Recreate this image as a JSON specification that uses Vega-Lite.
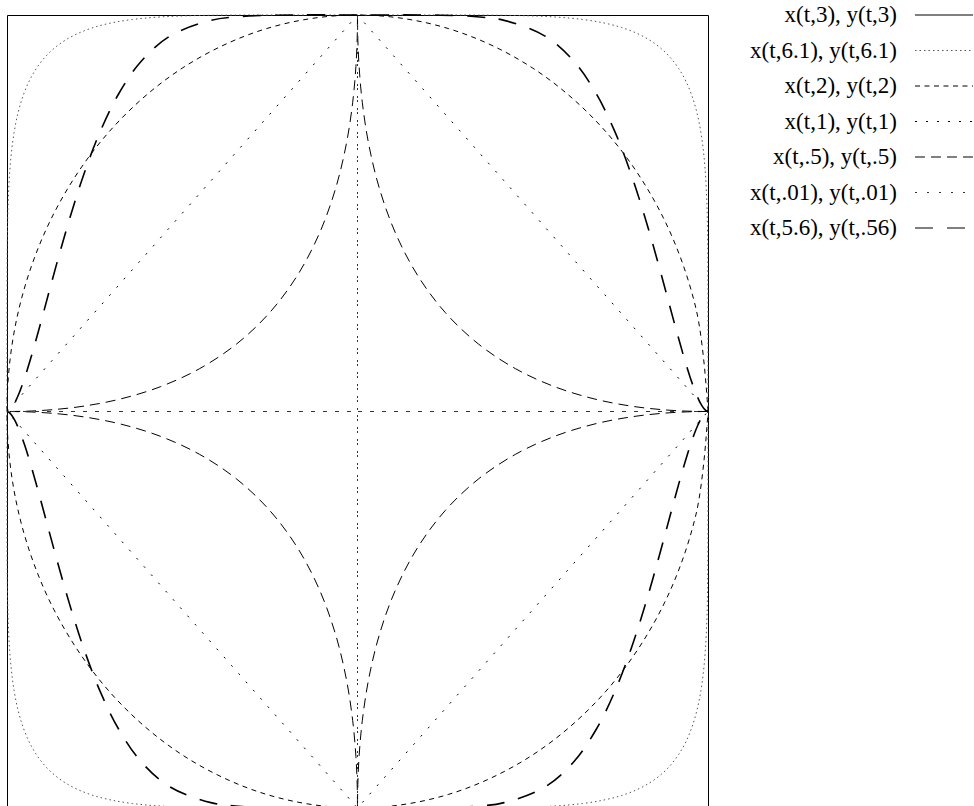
{
  "$schema": "https://vega.github.io/schema/vega-lite/v6.json",
  "width": 701,
  "height": 793,
  "autosize": {"type": "none"},
  "padding": {"left": 7, "top": 15, "right": 266, "bottom": 0},
  "background": "white",
  "config": {"view": {"stroke": "black", "strokeWidth": 1}, "font": "Liberation Serif"},
  "data": {"values": [
    {"s":"x(t,6.1), y(t,6.1)","i":0,"x":1,"y":0},
    {"s":"x(t,6.1), y(t,6.1)","i":1,"x":0.9988,"y":0.4493},
    {"s":"x(t,6.1), y(t,6.1)","i":2,"x":0.995,"y":0.5633},
    {"s":"x(t,6.1), y(t,6.1)","i":3,"x":0.9887,"y":0.642},
    {"s":"x(t,6.1), y(t,6.1)","i":4,"x":0.9798,"y":0.7035},
    {"s":"x(t,6.1), y(t,6.1)","i":5,"x":0.9683,"y":0.754},
    {"s":"x(t,6.1), y(t,6.1)","i":6,"x":0.9539,"y":0.7967},
    {"s":"x(t,6.1), y(t,6.1)","i":7,"x":0.9367,"y":0.8334},
    {"s":"x(t,6.1), y(t,6.1)","i":8,"x":0.9163,"y":0.8651},
    {"s":"x(t,6.1), y(t,6.1)","i":9,"x":0.8926,"y":0.8926},
    {"s":"x(t,6.1), y(t,6.1)","i":10,"x":0.8651,"y":0.9163},
    {"s":"x(t,6.1), y(t,6.1)","i":11,"x":0.8334,"y":0.9367},
    {"s":"x(t,6.1), y(t,6.1)","i":12,"x":0.7967,"y":0.9539},
    {"s":"x(t,6.1), y(t,6.1)","i":13,"x":0.754,"y":0.9683},
    {"s":"x(t,6.1), y(t,6.1)","i":14,"x":0.7035,"y":0.9798},
    {"s":"x(t,6.1), y(t,6.1)","i":15,"x":0.642,"y":0.9887},
    {"s":"x(t,6.1), y(t,6.1)","i":16,"x":0.5633,"y":0.995},
    {"s":"x(t,6.1), y(t,6.1)","i":17,"x":0.4493,"y":0.9988},
    {"s":"x(t,6.1), y(t,6.1)","i":18,"x":0,"y":1},
    {"s":"x(t,6.1), y(t,6.1)","i":19,"x":-0.4493,"y":0.9988},
    {"s":"x(t,6.1), y(t,6.1)","i":20,"x":-0.5633,"y":0.995},
    {"s":"x(t,6.1), y(t,6.1)","i":21,"x":-0.642,"y":0.9887},
    {"s":"x(t,6.1), y(t,6.1)","i":22,"x":-0.7035,"y":0.9798},
    {"s":"x(t,6.1), y(t,6.1)","i":23,"x":-0.754,"y":0.9683},
    {"s":"x(t,6.1), y(t,6.1)","i":24,"x":-0.7967,"y":0.9539},
    {"s":"x(t,6.1), y(t,6.1)","i":25,"x":-0.8334,"y":0.9367},
    {"s":"x(t,6.1), y(t,6.1)","i":26,"x":-0.8651,"y":0.9163},
    {"s":"x(t,6.1), y(t,6.1)","i":27,"x":-0.8926,"y":0.8926},
    {"s":"x(t,6.1), y(t,6.1)","i":28,"x":-0.9163,"y":0.8651},
    {"s":"x(t,6.1), y(t,6.1)","i":29,"x":-0.9367,"y":0.8334},
    {"s":"x(t,6.1), y(t,6.1)","i":30,"x":-0.9539,"y":0.7967},
    {"s":"x(t,6.1), y(t,6.1)","i":31,"x":-0.9683,"y":0.754},
    {"s":"x(t,6.1), y(t,6.1)","i":32,"x":-0.9798,"y":0.7035},
    {"s":"x(t,6.1), y(t,6.1)","i":33,"x":-0.9887,"y":0.642},
    {"s":"x(t,6.1), y(t,6.1)","i":34,"x":-0.995,"y":0.5633},
    {"s":"x(t,6.1), y(t,6.1)","i":35,"x":-0.9988,"y":0.4493},
    {"s":"x(t,6.1), y(t,6.1)","i":36,"x":-1,"y":0},
    {"s":"x(t,6.1), y(t,6.1)","i":37,"x":-0.9988,"y":-0.4493},
    {"s":"x(t,6.1), y(t,6.1)","i":38,"x":-0.995,"y":-0.5633},
    {"s":"x(t,6.1), y(t,6.1)","i":39,"x":-0.9887,"y":-0.642},
    {"s":"x(t,6.1), y(t,6.1)","i":40,"x":-0.9798,"y":-0.7035},
    {"s":"x(t,6.1), y(t,6.1)","i":41,"x":-0.9683,"y":-0.754},
    {"s":"x(t,6.1), y(t,6.1)","i":42,"x":-0.9539,"y":-0.7967},
    {"s":"x(t,6.1), y(t,6.1)","i":43,"x":-0.9367,"y":-0.8334},
    {"s":"x(t,6.1), y(t,6.1)","i":44,"x":-0.9163,"y":-0.8651},
    {"s":"x(t,6.1), y(t,6.1)","i":45,"x":-0.8926,"y":-0.8926},
    {"s":"x(t,6.1), y(t,6.1)","i":46,"x":-0.8651,"y":-0.9163},
    {"s":"x(t,6.1), y(t,6.1)","i":47,"x":-0.8334,"y":-0.9367},
    {"s":"x(t,6.1), y(t,6.1)","i":48,"x":-0.7967,"y":-0.9539},
    {"s":"x(t,6.1), y(t,6.1)","i":49,"x":-0.754,"y":-0.9683},
    {"s":"x(t,6.1), y(t,6.1)","i":50,"x":-0.7035,"y":-0.9798},
    {"s":"x(t,6.1), y(t,6.1)","i":51,"x":-0.642,"y":-0.9887},
    {"s":"x(t,6.1), y(t,6.1)","i":52,"x":-0.5633,"y":-0.995},
    {"s":"x(t,6.1), y(t,6.1)","i":53,"x":-0.4493,"y":-0.9988},
    {"s":"x(t,6.1), y(t,6.1)","i":54,"x":0,"y":-1},
    {"s":"x(t,6.1), y(t,6.1)","i":55,"x":0.4493,"y":-0.9988},
    {"s":"x(t,6.1), y(t,6.1)","i":56,"x":0.5633,"y":-0.995},
    {"s":"x(t,6.1), y(t,6.1)","i":57,"x":0.642,"y":-0.9887},
    {"s":"x(t,6.1), y(t,6.1)","i":58,"x":0.7035,"y":-0.9798},
    {"s":"x(t,6.1), y(t,6.1)","i":59,"x":0.754,"y":-0.9683},
    {"s":"x(t,6.1), y(t,6.1)","i":60,"x":0.7967,"y":-0.9539},
    {"s":"x(t,6.1), y(t,6.1)","i":61,"x":0.8334,"y":-0.9367},
    {"s":"x(t,6.1), y(t,6.1)","i":62,"x":0.8651,"y":-0.9163},
    {"s":"x(t,6.1), y(t,6.1)","i":63,"x":0.8926,"y":-0.8926},
    {"s":"x(t,6.1), y(t,6.1)","i":64,"x":0.9163,"y":-0.8651},
    {"s":"x(t,6.1), y(t,6.1)","i":65,"x":0.9367,"y":-0.8334},
    {"s":"x(t,6.1), y(t,6.1)","i":66,"x":0.9539,"y":-0.7967},
    {"s":"x(t,6.1), y(t,6.1)","i":67,"x":0.9683,"y":-0.754},
    {"s":"x(t,6.1), y(t,6.1)","i":68,"x":0.9798,"y":-0.7035},
    {"s":"x(t,6.1), y(t,6.1)","i":69,"x":0.9887,"y":-0.642},
    {"s":"x(t,6.1), y(t,6.1)","i":70,"x":0.995,"y":-0.5633},
    {"s":"x(t,6.1), y(t,6.1)","i":71,"x":0.9988,"y":-0.4493},
    {"s":"x(t,6.1), y(t,6.1)","i":72,"x":1,"y":0},

    {"s":"x(t,2), y(t,2)","i":0,"x":1,"y":0},
    {"s":"x(t,2), y(t,2)","i":1,"x":0.9659,"y":0.2588},
    {"s":"x(t,2), y(t,2)","i":2,"x":0.866,"y":0.5},
    {"s":"x(t,2), y(t,2)","i":3,"x":0.7071,"y":0.7071},
    {"s":"x(t,2), y(t,2)","i":4,"x":0.5,"y":0.866},
    {"s":"x(t,2), y(t,2)","i":5,"x":0.2588,"y":0.9659},
    {"s":"x(t,2), y(t,2)","i":6,"x":0,"y":1},
    {"s":"x(t,2), y(t,2)","i":7,"x":-0.2588,"y":0.9659},
    {"s":"x(t,2), y(t,2)","i":8,"x":-0.5,"y":0.866},
    {"s":"x(t,2), y(t,2)","i":9,"x":-0.7071,"y":0.7071},
    {"s":"x(t,2), y(t,2)","i":10,"x":-0.866,"y":0.5},
    {"s":"x(t,2), y(t,2)","i":11,"x":-0.9659,"y":0.2588},
    {"s":"x(t,2), y(t,2)","i":12,"x":-1,"y":0},
    {"s":"x(t,2), y(t,2)","i":13,"x":-0.9659,"y":-0.2588},
    {"s":"x(t,2), y(t,2)","i":14,"x":-0.866,"y":-0.5},
    {"s":"x(t,2), y(t,2)","i":15,"x":-0.7071,"y":-0.7071},
    {"s":"x(t,2), y(t,2)","i":16,"x":-0.5,"y":-0.866},
    {"s":"x(t,2), y(t,2)","i":17,"x":-0.2588,"y":-0.9659},
    {"s":"x(t,2), y(t,2)","i":18,"x":0,"y":-1},
    {"s":"x(t,2), y(t,2)","i":19,"x":0.2588,"y":-0.9659},
    {"s":"x(t,2), y(t,2)","i":20,"x":0.5,"y":-0.866},
    {"s":"x(t,2), y(t,2)","i":21,"x":0.7071,"y":-0.7071},
    {"s":"x(t,2), y(t,2)","i":22,"x":0.866,"y":-0.5},
    {"s":"x(t,2), y(t,2)","i":23,"x":0.9659,"y":-0.2588},
    {"s":"x(t,2), y(t,2)","i":24,"x":1,"y":0},

    {"s":"x(t,1), y(t,1)","i":0,"x":1,"y":0},
    {"s":"x(t,1), y(t,1)","i":1,"x":0,"y":1},
    {"s":"x(t,1), y(t,1)","i":2,"x":-1,"y":0},
    {"s":"x(t,1), y(t,1)","i":3,"x":0,"y":-1},
    {"s":"x(t,1), y(t,1)","i":4,"x":1,"y":0},

    {"s":"x(t,.5), y(t,.5)","i":0,"x":1,"y":0},
    {"s":"x(t,.5), y(t,.5)","i":1,"x":0.9849,"y":0.0001},
    {"s":"x(t,.5), y(t,.5)","i":2,"x":0.9406,"y":0.0009},
    {"s":"x(t,.5), y(t,.5)","i":3,"x":0.8705,"y":0.0045},
    {"s":"x(t,.5), y(t,.5)","i":4,"x":0.7797,"y":0.0137},
    {"s":"x(t,.5), y(t,.5)","i":5,"x":0.6747,"y":0.0319},
    {"s":"x(t,.5), y(t,.5)","i":6,"x":0.5625,"y":0.0625},
    {"s":"x(t,.5), y(t,.5)","i":7,"x":0.4503,"y":0.1082},
    {"s":"x(t,.5), y(t,.5)","i":8,"x":0.3444,"y":0.1707},
    {"s":"x(t,.5), y(t,.5)","i":9,"x":0.25,"y":0.25},
    {"s":"x(t,.5), y(t,.5)","i":10,"x":0.1707,"y":0.3444},
    {"s":"x(t,.5), y(t,.5)","i":11,"x":0.1082,"y":0.4503},
    {"s":"x(t,.5), y(t,.5)","i":12,"x":0.0625,"y":0.5625},
    {"s":"x(t,.5), y(t,.5)","i":13,"x":0.0319,"y":0.6747},
    {"s":"x(t,.5), y(t,.5)","i":14,"x":0.0137,"y":0.7797},
    {"s":"x(t,.5), y(t,.5)","i":15,"x":0.0045,"y":0.8705},
    {"s":"x(t,.5), y(t,.5)","i":16,"x":0.0009,"y":0.9406},
    {"s":"x(t,.5), y(t,.5)","i":17,"x":0.0001,"y":0.9849},
    {"s":"x(t,.5), y(t,.5)","i":18,"x":0,"y":1},
    {"s":"x(t,.5), y(t,.5)","i":19,"x":-0.0001,"y":0.9849},
    {"s":"x(t,.5), y(t,.5)","i":20,"x":-0.0009,"y":0.9406},
    {"s":"x(t,.5), y(t,.5)","i":21,"x":-0.0045,"y":0.8705},
    {"s":"x(t,.5), y(t,.5)","i":22,"x":-0.0137,"y":0.7797},
    {"s":"x(t,.5), y(t,.5)","i":23,"x":-0.0319,"y":0.6747},
    {"s":"x(t,.5), y(t,.5)","i":24,"x":-0.0625,"y":0.5625},
    {"s":"x(t,.5), y(t,.5)","i":25,"x":-0.1082,"y":0.4503},
    {"s":"x(t,.5), y(t,.5)","i":26,"x":-0.1707,"y":0.3444},
    {"s":"x(t,.5), y(t,.5)","i":27,"x":-0.25,"y":0.25},
    {"s":"x(t,.5), y(t,.5)","i":28,"x":-0.3444,"y":0.1707},
    {"s":"x(t,.5), y(t,.5)","i":29,"x":-0.4503,"y":0.1082},
    {"s":"x(t,.5), y(t,.5)","i":30,"x":-0.5625,"y":0.0625},
    {"s":"x(t,.5), y(t,.5)","i":31,"x":-0.6747,"y":0.0319},
    {"s":"x(t,.5), y(t,.5)","i":32,"x":-0.7797,"y":0.0137},
    {"s":"x(t,.5), y(t,.5)","i":33,"x":-0.8705,"y":0.0045},
    {"s":"x(t,.5), y(t,.5)","i":34,"x":-0.9406,"y":0.0009},
    {"s":"x(t,.5), y(t,.5)","i":35,"x":-0.9849,"y":0.0001},
    {"s":"x(t,.5), y(t,.5)","i":36,"x":-1,"y":0},
    {"s":"x(t,.5), y(t,.5)","i":37,"x":-0.9849,"y":-0.0001},
    {"s":"x(t,.5), y(t,.5)","i":38,"x":-0.9406,"y":-0.0009},
    {"s":"x(t,.5), y(t,.5)","i":39,"x":-0.8705,"y":-0.0045},
    {"s":"x(t,.5), y(t,.5)","i":40,"x":-0.7797,"y":-0.0137},
    {"s":"x(t,.5), y(t,.5)","i":41,"x":-0.6747,"y":-0.0319},
    {"s":"x(t,.5), y(t,.5)","i":42,"x":-0.5625,"y":-0.0625},
    {"s":"x(t,.5), y(t,.5)","i":43,"x":-0.4503,"y":-0.1082},
    {"s":"x(t,.5), y(t,.5)","i":44,"x":-0.3444,"y":-0.1707},
    {"s":"x(t,.5), y(t,.5)","i":45,"x":-0.25,"y":-0.25},
    {"s":"x(t,.5), y(t,.5)","i":46,"x":-0.1707,"y":-0.3444},
    {"s":"x(t,.5), y(t,.5)","i":47,"x":-0.1082,"y":-0.4503},
    {"s":"x(t,.5), y(t,.5)","i":48,"x":-0.0625,"y":-0.5625},
    {"s":"x(t,.5), y(t,.5)","i":49,"x":-0.0319,"y":-0.6747},
    {"s":"x(t,.5), y(t,.5)","i":50,"x":-0.0137,"y":-0.7797},
    {"s":"x(t,.5), y(t,.5)","i":51,"x":-0.0045,"y":-0.8705},
    {"s":"x(t,.5), y(t,.5)","i":52,"x":-0.0009,"y":-0.9406},
    {"s":"x(t,.5), y(t,.5)","i":53,"x":-0.0001,"y":-0.9849},
    {"s":"x(t,.5), y(t,.5)","i":54,"x":0,"y":-1},
    {"s":"x(t,.5), y(t,.5)","i":55,"x":0.0001,"y":-0.9849},
    {"s":"x(t,.5), y(t,.5)","i":56,"x":0.0009,"y":-0.9406},
    {"s":"x(t,.5), y(t,.5)","i":57,"x":0.0045,"y":-0.8705},
    {"s":"x(t,.5), y(t,.5)","i":58,"x":0.0137,"y":-0.7797},
    {"s":"x(t,.5), y(t,.5)","i":59,"x":0.0319,"y":-0.6747},
    {"s":"x(t,.5), y(t,.5)","i":60,"x":0.0625,"y":-0.5625},
    {"s":"x(t,.5), y(t,.5)","i":61,"x":0.1082,"y":-0.4503},
    {"s":"x(t,.5), y(t,.5)","i":62,"x":0.1707,"y":-0.3444},
    {"s":"x(t,.5), y(t,.5)","i":63,"x":0.25,"y":-0.25},
    {"s":"x(t,.5), y(t,.5)","i":64,"x":0.3444,"y":-0.1707},
    {"s":"x(t,.5), y(t,.5)","i":65,"x":0.4503,"y":-0.1082},
    {"s":"x(t,.5), y(t,.5)","i":66,"x":0.5625,"y":-0.0625},
    {"s":"x(t,.5), y(t,.5)","i":67,"x":0.6747,"y":-0.0319},
    {"s":"x(t,.5), y(t,.5)","i":68,"x":0.7797,"y":-0.0137},
    {"s":"x(t,.5), y(t,.5)","i":69,"x":0.8705,"y":-0.0045},
    {"s":"x(t,.5), y(t,.5)","i":70,"x":0.9406,"y":-0.0009},
    {"s":"x(t,.5), y(t,.5)","i":71,"x":0.9849,"y":-0.0001},
    {"s":"x(t,.5), y(t,.5)","i":72,"x":1,"y":0},

    {"s":"x(t,.01), y(t,.01)","i":0,"x":1,"y":0},
    {"s":"x(t,.01), y(t,.01)","i":1,"x":0,"y":0},
    {"s":"x(t,.01), y(t,.01)","i":2,"x":0,"y":1},
    {"s":"x(t,.01), y(t,.01)","i":3,"x":0,"y":0},
    {"s":"x(t,.01), y(t,.01)","i":4,"x":-1,"y":0},
    {"s":"x(t,.01), y(t,.01)","i":5,"x":0,"y":0},
    {"s":"x(t,.01), y(t,.01)","i":6,"x":0,"y":-1},
    {"s":"x(t,.01), y(t,.01)","i":7,"x":0,"y":0},
    {"s":"x(t,.01), y(t,.01)","i":8,"x":1,"y":0},

    {"s":"x(t,5.6), y(t,.56)","i":0,"x":1,"y":0},
    {"s":"x(t,5.6), y(t,.56)","i":1,"x":0.9986,"y":0.0002},
    {"s":"x(t,5.6), y(t,.56)","i":2,"x":0.9946,"y":0.0019},
    {"s":"x(t,5.6), y(t,.56)","i":3,"x":0.9877,"y":0.008},
    {"s":"x(t,5.6), y(t,.56)","i":4,"x":0.978,"y":0.0217},
    {"s":"x(t,5.6), y(t,.56)","i":5,"x":0.9655,"y":0.0461},
    {"s":"x(t,5.6), y(t,.56)","i":6,"x":0.9499,"y":0.0841},
    {"s":"x(t,5.6), y(t,.56)","i":7,"x":0.9312,"y":0.1374},
    {"s":"x(t,5.6), y(t,.56)","i":8,"x":0.9092,"y":0.2063},
    {"s":"x(t,5.6), y(t,.56)","i":9,"x":0.8836,"y":0.29},
    {"s":"x(t,5.6), y(t,.56)","i":10,"x":0.854,"y":0.386},
    {"s":"x(t,5.6), y(t,.56)","i":11,"x":0.8199,"y":0.4904},
    {"s":"x(t,5.6), y(t,.56)","i":12,"x":0.7807,"y":0.5983},
    {"s":"x(t,5.6), y(t,.56)","i":13,"x":0.7352,"y":0.7038},
    {"s":"x(t,5.6), y(t,.56)","i":14,"x":0.6817,"y":0.8008},
    {"s":"x(t,5.6), y(t,.56)","i":15,"x":0.6171,"y":0.8835},
    {"s":"x(t,5.6), y(t,.56)","i":16,"x":0.5351,"y":0.9468},
    {"s":"x(t,5.6), y(t,.56)","i":17,"x":0.4184,"y":0.9865},
    {"s":"x(t,5.6), y(t,.56)","i":18,"x":0.3487,"y":0.9951},
    {"s":"x(t,5.6), y(t,.56)","i":19,"x":0.2356,"y":0.9995},
    {"s":"x(t,5.6), y(t,.56)","i":20,"x":0,"y":1},
    {"s":"x(t,5.6), y(t,.56)","i":21,"x":-0.2356,"y":0.9995},
    {"s":"x(t,5.6), y(t,.56)","i":22,"x":-0.3487,"y":0.9951},
    {"s":"x(t,5.6), y(t,.56)","i":23,"x":-0.4184,"y":0.9865},
    {"s":"x(t,5.6), y(t,.56)","i":24,"x":-0.5351,"y":0.9468},
    {"s":"x(t,5.6), y(t,.56)","i":25,"x":-0.6171,"y":0.8835},
    {"s":"x(t,5.6), y(t,.56)","i":26,"x":-0.6817,"y":0.8008},
    {"s":"x(t,5.6), y(t,.56)","i":27,"x":-0.7352,"y":0.7038},
    {"s":"x(t,5.6), y(t,.56)","i":28,"x":-0.7807,"y":0.5983},
    {"s":"x(t,5.6), y(t,.56)","i":29,"x":-0.8199,"y":0.4904},
    {"s":"x(t,5.6), y(t,.56)","i":30,"x":-0.854,"y":0.386},
    {"s":"x(t,5.6), y(t,.56)","i":31,"x":-0.8836,"y":0.29},
    {"s":"x(t,5.6), y(t,.56)","i":32,"x":-0.9092,"y":0.2063},
    {"s":"x(t,5.6), y(t,.56)","i":33,"x":-0.9312,"y":0.1374},
    {"s":"x(t,5.6), y(t,.56)","i":34,"x":-0.9499,"y":0.0841},
    {"s":"x(t,5.6), y(t,.56)","i":35,"x":-0.9655,"y":0.0461},
    {"s":"x(t,5.6), y(t,.56)","i":36,"x":-0.978,"y":0.0217},
    {"s":"x(t,5.6), y(t,.56)","i":37,"x":-0.9877,"y":0.008},
    {"s":"x(t,5.6), y(t,.56)","i":38,"x":-0.9946,"y":0.0019},
    {"s":"x(t,5.6), y(t,.56)","i":39,"x":-0.9986,"y":0.0002},
    {"s":"x(t,5.6), y(t,.56)","i":40,"x":-1,"y":0},
    {"s":"x(t,5.6), y(t,.56)","i":41,"x":-0.9986,"y":-0.0002},
    {"s":"x(t,5.6), y(t,.56)","i":42,"x":-0.9946,"y":-0.0019},
    {"s":"x(t,5.6), y(t,.56)","i":43,"x":-0.9877,"y":-0.008},
    {"s":"x(t,5.6), y(t,.56)","i":44,"x":-0.978,"y":-0.0217},
    {"s":"x(t,5.6), y(t,.56)","i":45,"x":-0.9655,"y":-0.0461},
    {"s":"x(t,5.6), y(t,.56)","i":46,"x":-0.9499,"y":-0.0841},
    {"s":"x(t,5.6), y(t,.56)","i":47,"x":-0.9312,"y":-0.1374},
    {"s":"x(t,5.6), y(t,.56)","i":48,"x":-0.9092,"y":-0.2063},
    {"s":"x(t,5.6), y(t,.56)","i":49,"x":-0.8836,"y":-0.29},
    {"s":"x(t,5.6), y(t,.56)","i":50,"x":-0.854,"y":-0.386},
    {"s":"x(t,5.6), y(t,.56)","i":51,"x":-0.8199,"y":-0.4904},
    {"s":"x(t,5.6), y(t,.56)","i":52,"x":-0.7807,"y":-0.5983},
    {"s":"x(t,5.6), y(t,.56)","i":53,"x":-0.7352,"y":-0.7038},
    {"s":"x(t,5.6), y(t,.56)","i":54,"x":-0.6817,"y":-0.8008},
    {"s":"x(t,5.6), y(t,.56)","i":55,"x":-0.6171,"y":-0.8835},
    {"s":"x(t,5.6), y(t,.56)","i":56,"x":-0.5351,"y":-0.9468},
    {"s":"x(t,5.6), y(t,.56)","i":57,"x":-0.4184,"y":-0.9865},
    {"s":"x(t,5.6), y(t,.56)","i":58,"x":-0.3487,"y":-0.9951},
    {"s":"x(t,5.6), y(t,.56)","i":59,"x":-0.2356,"y":-0.9995},
    {"s":"x(t,5.6), y(t,.56)","i":60,"x":0,"y":-1},
    {"s":"x(t,5.6), y(t,.56)","i":61,"x":0.2356,"y":-0.9995},
    {"s":"x(t,5.6), y(t,.56)","i":62,"x":0.3487,"y":-0.9951},
    {"s":"x(t,5.6), y(t,.56)","i":63,"x":0.4184,"y":-0.9865},
    {"s":"x(t,5.6), y(t,.56)","i":64,"x":0.5351,"y":-0.9468},
    {"s":"x(t,5.6), y(t,.56)","i":65,"x":0.6171,"y":-0.8835},
    {"s":"x(t,5.6), y(t,.56)","i":66,"x":0.6817,"y":-0.8008},
    {"s":"x(t,5.6), y(t,.56)","i":67,"x":0.7352,"y":-0.7038},
    {"s":"x(t,5.6), y(t,.56)","i":68,"x":0.7807,"y":-0.5983},
    {"s":"x(t,5.6), y(t,.56)","i":69,"x":0.8199,"y":-0.4904},
    {"s":"x(t,5.6), y(t,.56)","i":70,"x":0.854,"y":-0.386},
    {"s":"x(t,5.6), y(t,.56)","i":71,"x":0.8836,"y":-0.29},
    {"s":"x(t,5.6), y(t,.56)","i":72,"x":0.9092,"y":-0.2063},
    {"s":"x(t,5.6), y(t,.56)","i":73,"x":0.9312,"y":-0.1374},
    {"s":"x(t,5.6), y(t,.56)","i":74,"x":0.9499,"y":-0.0841},
    {"s":"x(t,5.6), y(t,.56)","i":75,"x":0.9655,"y":-0.0461},
    {"s":"x(t,5.6), y(t,.56)","i":76,"x":0.978,"y":-0.0217},
    {"s":"x(t,5.6), y(t,.56)","i":77,"x":0.9877,"y":-0.008},
    {"s":"x(t,5.6), y(t,.56)","i":78,"x":0.9946,"y":-0.0019},
    {"s":"x(t,5.6), y(t,.56)","i":79,"x":0.9986,"y":-0.0002},
    {"s":"x(t,5.6), y(t,.56)","i":80,"x":1,"y":0}
  ]},
  "encoding": {
    "x": {"field": "x", "type": "quantitative", "scale": {"domain": [-1, 1], "nice": false, "zero": false}, "axis": null},
    "y": {"field": "y", "type": "quantitative", "scale": {"domain": [-1, 1], "nice": false, "zero": false}, "axis": null},
    "order": {"field": "i", "type": "quantitative"},
    "color": {
      "field": "s", "type": "nominal",
      "scale": {
        "domain": ["x(t,3), y(t,3)", "x(t,6.1), y(t,6.1)", "x(t,2), y(t,2)", "x(t,1), y(t,1)", "x(t,.5), y(t,.5)", "x(t,.01), y(t,.01)", "x(t,5.6), y(t,.56)"],
        "range": ["black", "#555555", "black", "black", "black", "#333333", "black"]
      },
      "legend": {
        "title": null, "orient": "none", "legendX": 925.5, "legendY": -11.5, "padding": 0,
        "symbolType": "M-3,0H3", "symbolSize": 374, "symbolStrokeWidth": 1, "symbolOpacity": 1,
        "labelFont": "Liberation Serif", "labelFontSize": 23, "labelColor": "black",
        "labelAlign": "right", "labelOffset": -58.5, "labelLimit": 400,
        "rowPadding": 11.5
      }
    },
    "strokeDash": {
      "field": "s", "type": "nominal",
      "scale": {
        "domain": ["x(t,3), y(t,3)", "x(t,6.1), y(t,6.1)", "x(t,2), y(t,2)", "x(t,1), y(t,1)", "x(t,.5), y(t,.5)", "x(t,.01), y(t,.01)", "x(t,5.6), y(t,.56)"],
        "range": [[1, 0], [1.5, 3], [5, 4.5], [2, 9], [10, 6], [2, 10], [18, 14]]
      },
      "legend": {
        "title": null, "orient": "none", "legendX": 925.5, "legendY": -11.5, "padding": 0,
        "symbolType": "M-3,0H3", "symbolSize": 374, "symbolStrokeWidth": 1, "symbolOpacity": 1,
        "labelFont": "Liberation Serif", "labelFontSize": 23, "labelColor": "black",
        "labelAlign": "right", "labelOffset": -58.5, "labelLimit": 400,
        "rowPadding": 11.5
      }
    }
  },
  "layer": [
    {
      "transform": [{"filter": {"field": "s", "oneOf": ["x(t,6.1), y(t,6.1)", "x(t,2), y(t,2)", "x(t,.5), y(t,.5)"]}}],
      "mark": {"type": "line", "interpolate": "catmull-rom", "strokeWidth": 1}
    },
    {
      "transform": [{"filter": {"field": "s", "oneOf": ["x(t,1), y(t,1)", "x(t,.01), y(t,.01)"]}}],
      "mark": {"type": "line", "interpolate": "linear", "strokeWidth": 1}
    },
    {
      "transform": [{"filter": {"field": "s", "oneOf": ["x(t,5.6), y(t,.56)"]}}],
      "mark": {"type": "line", "interpolate": "catmull-rom", "strokeWidth": 1.6}
    }
  ]
}
